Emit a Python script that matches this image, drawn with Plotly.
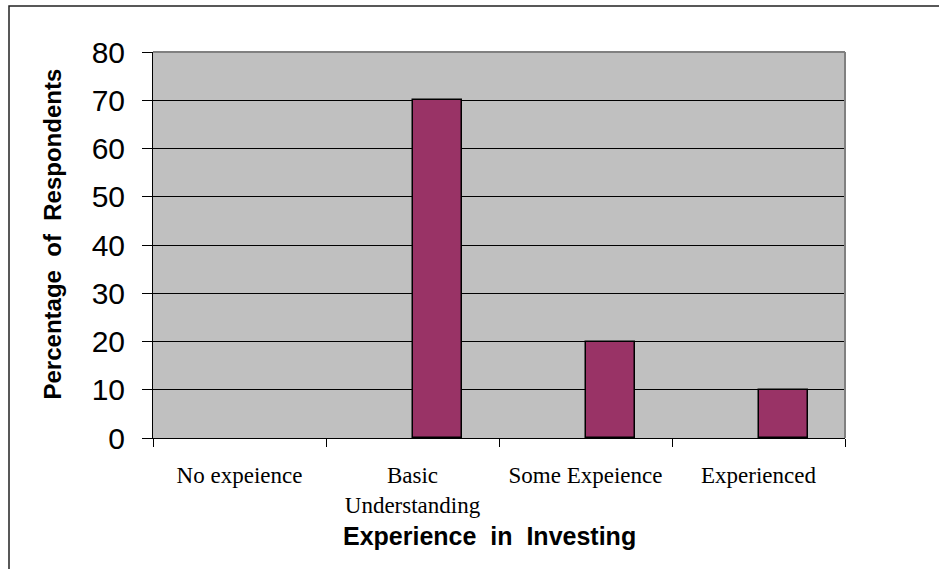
import plotly.graph_objects as go

# Survey results: share of respondents by investing experience
categories = ["No expeience", "Basic<br>Understanding", "Some Expeience", "Experienced"]
percentages = [0, 70, 20, 10]
y_ticks = [0, 10, 20, 30, 40, 50, 60, 70, 80]

W, H = 939, 569
L, R, T, B = 153, 94, 52, 131
pw, ph = W - L - R, H - T - B


def px_x(x):
    return (x - L) / pw


def px_y(y):
    return (H - B - y) / ph


# empty categories get no outline so nothing shows on the baseline
outline_widths = [1.5 if v > 0 else 0 for v in percentages]

fig = go.Figure()
fig.add_trace(go.Bar(
    x=categories,
    y=percentages,
    width=0.2857,
    offset=0,
    marker=dict(color="#993366", line=dict(color="#000000", width=outline_widths)),
    hoverinfo="x+y",
))

fig.update_layout(
    width=W, height=H,
    margin=dict(l=L, r=R, t=T, b=B),
    paper_bgcolor="#FFFFFF",
    plot_bgcolor="#C0C0C0",
    showlegend=False,
    bargap=0,
    xaxis=dict(
        type="category",
        tickson="boundaries",
        ticks="outside", ticklen=8, tickcolor="#000000", tickwidth=1,
        showgrid=False,
        showline=True, linecolor="#000000", linewidth=1,
        tickfont=dict(family="Liberation Serif, Times New Roman, serif", size=23, color="#000000"),
        ticklabelstandoff=16,
        range=[-0.5, 3.5],
    ),
    yaxis=dict(
        range=[0, 80],
        tickvals=y_ticks,
        ticks="outside", ticklen=10, tickcolor="#000000", tickwidth=1,
        showgrid=True, gridcolor="#000000", gridwidth=1,
        showline=True, linecolor="#000000", linewidth=1,
        zeroline=False,
        tickfont=dict(family="Liberation Sans, Arial, sans-serif", size=30, color="#000000"),
        ticklabelstandoff=11,
    ),
    shapes=[
        # grey frame on top and right of the plotting area
        dict(type="line", xref="paper", yref="paper", x0=0, x1=1, y0=1, y1=1,
             line=dict(color="#808080", width=2)),
        dict(type="line", xref="paper", yref="paper", x0=1, x1=1, y0=0, y1=1,
             line=dict(color="#808080", width=2)),
        # chart border
        dict(type="rect", xref="paper", yref="paper",
             x0=px_x(9), x1=px_x(960), y0=px_y(590), y1=px_y(6),
             line=dict(color="#222222", width=1.5), layer="below"),
    ],
    annotations=[
        dict(text="<b>Experience  in  Investing</b>", xref="paper", yref="paper",
             x=px_x(489), y=px_y(552), showarrow=False,
             font=dict(family="Liberation Sans, Arial, sans-serif", size=25, color="#000000")),
        dict(text="<b>Percentage  of  Respondents</b>", xref="paper", yref="paper",
             x=px_x(36), y=px_y(234), textangle=-90, showarrow=False,
             font=dict(family="Liberation Sans, Arial, sans-serif", size=24, color="#000000")),
    ],
)

fig.write_html("out.html")
